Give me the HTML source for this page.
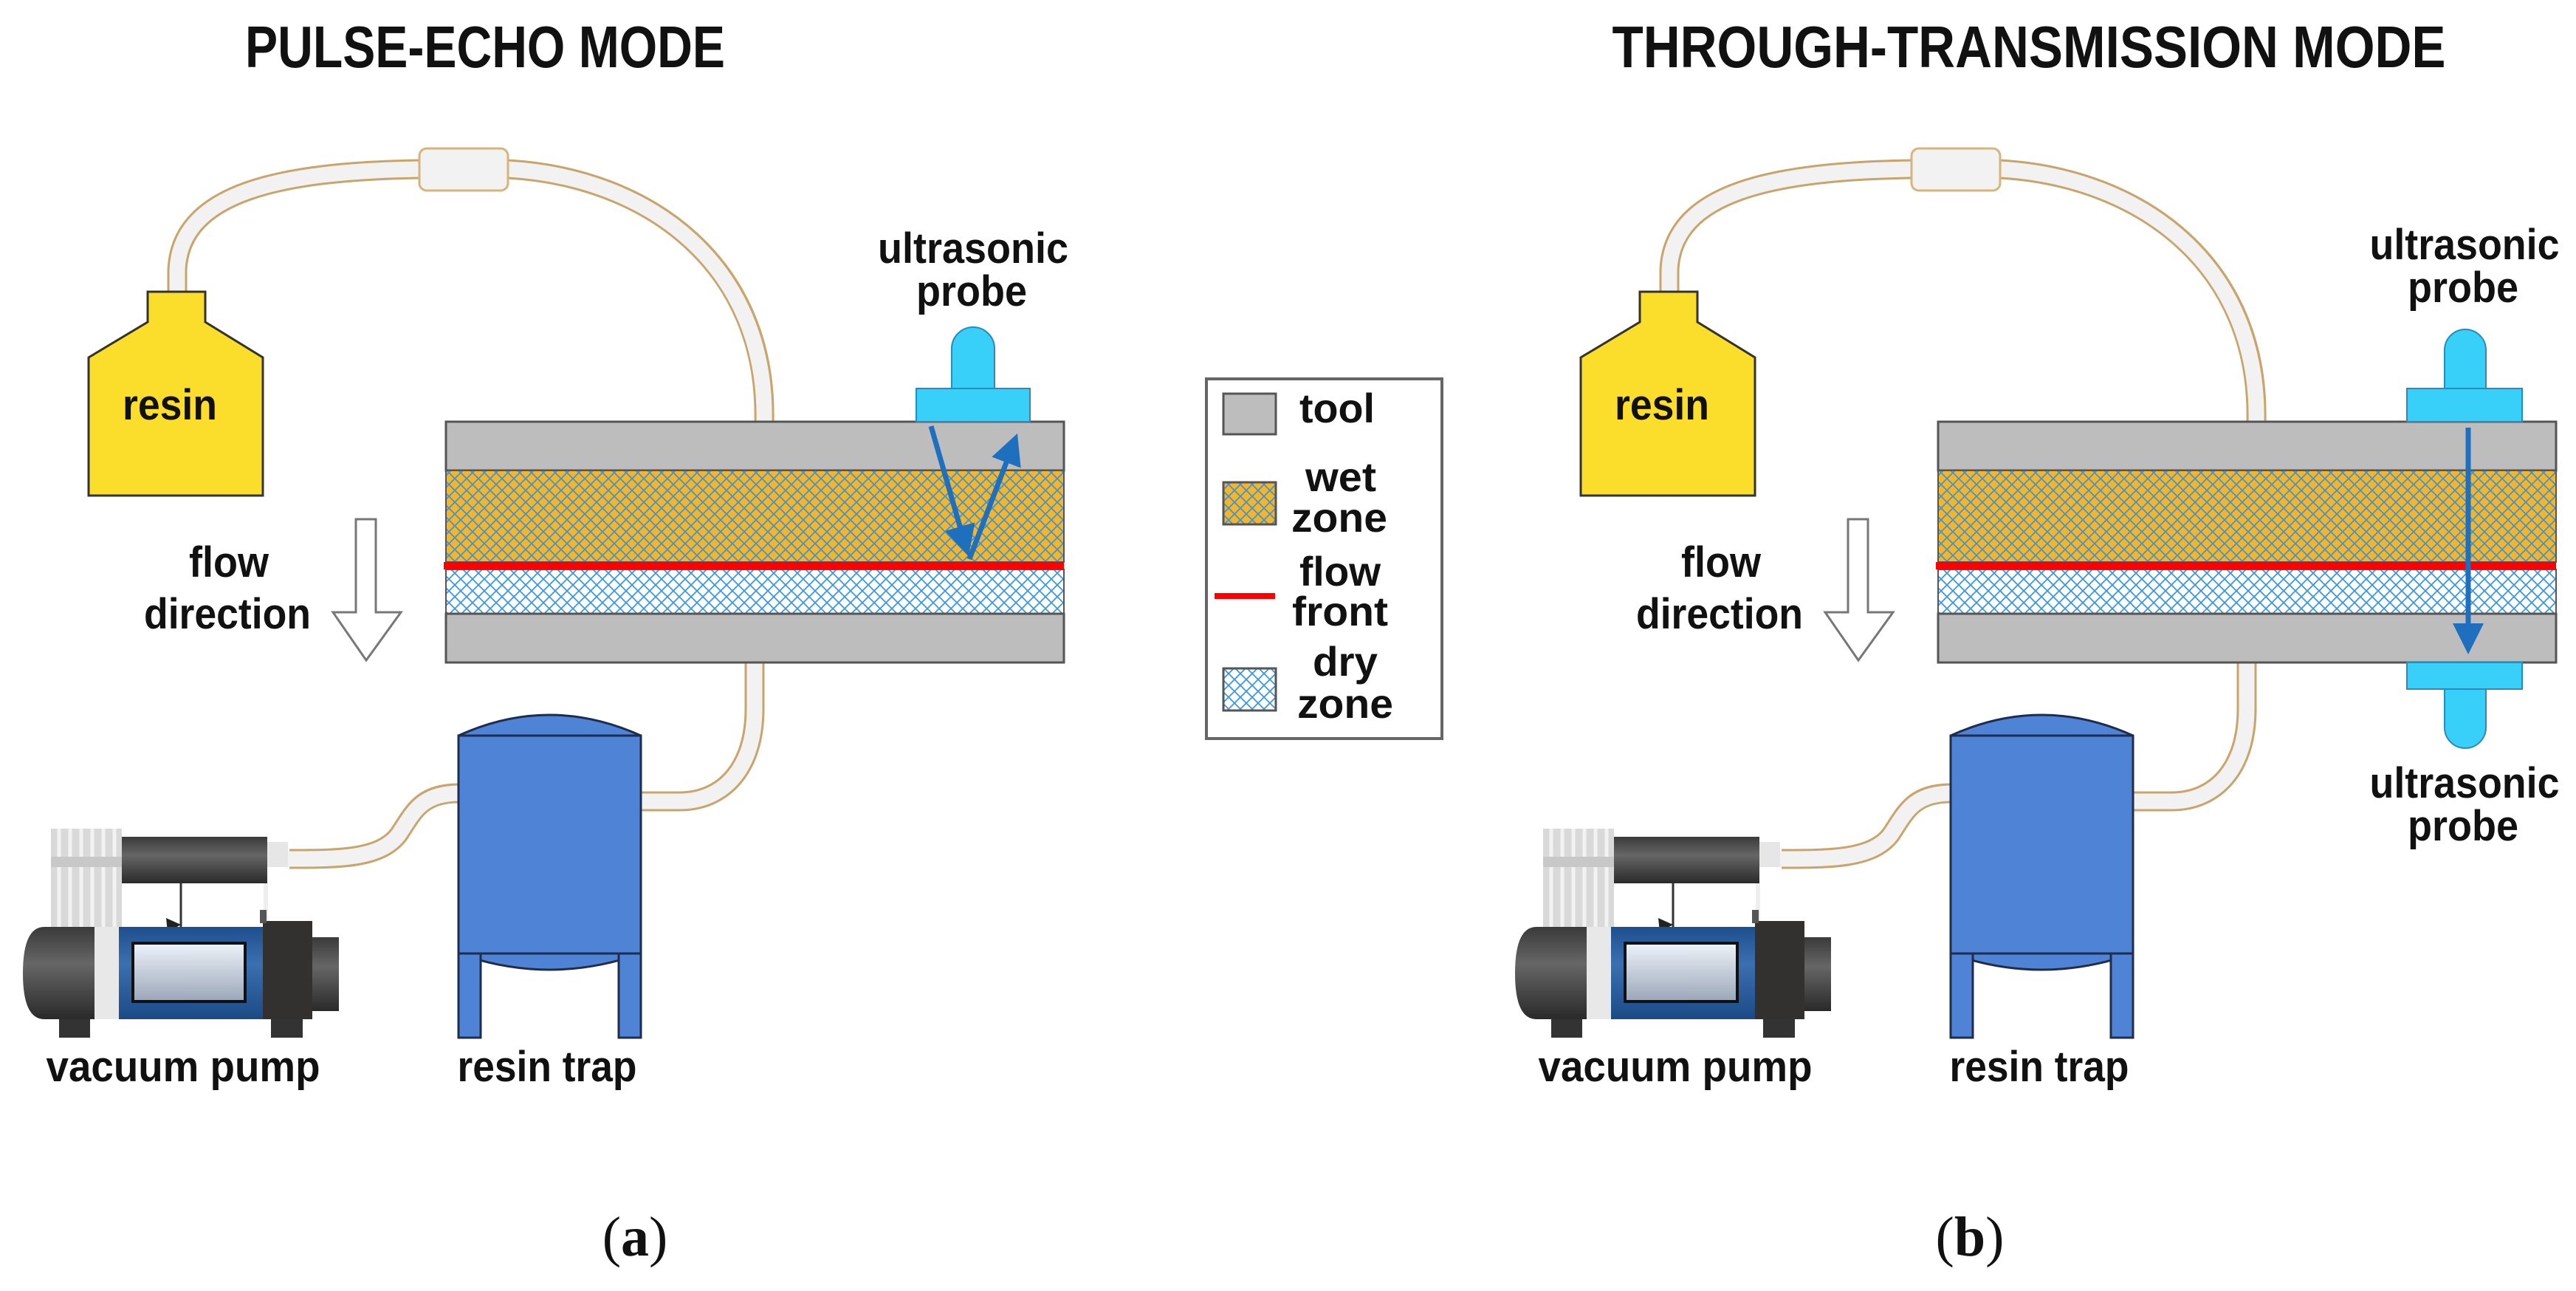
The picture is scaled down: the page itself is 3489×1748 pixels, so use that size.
<!DOCTYPE html>
<html><head><meta charset="utf-8"><style>html,body{margin:0;padding:0;background:#fff}svg{display:block}</style></head>
<body>
<svg xmlns="http://www.w3.org/2000/svg" width="3489" height="1748" viewBox="0 0 3489 1748">
<defs>
<pattern id="hw" patternUnits="userSpaceOnUse" width="16" height="16">
<rect width="16" height="16" fill="#f7b526"/>
<path d="M0,0L16,16M16,0L0,16" stroke="#3b95d8" stroke-width="1.8"/>
</pattern>
<pattern id="hd" patternUnits="userSpaceOnUse" width="16" height="16">
<rect width="16" height="16" fill="#fff"/>
<path d="M0,0L16,16M16,0L0,16" stroke="#3a97e6" stroke-width="1.8"/>
</pattern>
<linearGradient id="dk" x1="0" y1="0" x2="0" y2="1"><stop offset="0" stop-color="#3a3a3a"/><stop offset="0.4" stop-color="#666"/><stop offset="1" stop-color="#2a2a2a"/></linearGradient>
<linearGradient id="bl" x1="0" y1="0" x2="0" y2="1"><stop offset="0" stop-color="#1d4f8e"/><stop offset="0.4" stop-color="#3c6fb0"/><stop offset="1" stop-color="#1b4a86"/></linearGradient>
<linearGradient id="wn" x1="0" y1="0" x2="0" y2="1"><stop offset="0" stop-color="#eef3fa"/><stop offset="1" stop-color="#9aa6b8"/></linearGradient>
<marker id="ah" markerWidth="6" markerHeight="6" refX="4" refY="3" orient="auto" markerUnits="strokeWidth"><path d="M0,0L6,3L0,6Z" fill="#1f6fbf"/></marker>
<g id="tubes">
<g fill="none" stroke-linecap="butt">
<path d="M240,397 L240,365 C245,260 380,232 568,229 M688,229 C880,240 1040,360 1035,571 M1022,897 L1022,960 C1022,1040 980,1085 920,1085 L868,1085 M621,1074 C570,1074 560,1100 540,1130 C515,1163 460,1163 392,1163" stroke="#c9a56c" stroke-width="27"/>
<path d="M240,399 L240,365 C245,260 380,232 568,229 M688,229 C880,240 1040,360 1035,573 M1022,895 L1022,960 C1022,1040 980,1085 920,1085 L866,1085 M623,1074 C570,1074 560,1100 540,1130 C515,1163 460,1163 390,1163" stroke="#f2f2f2" stroke-width="21"/>
</g>
<rect x="568" y="201" width="120" height="57" rx="10" fill="#f2f2f2" stroke="#d6b47c" stroke-width="3"/>
</g>
<g id="bottle">
<path d="M200,395 L278,395 L278,436 L356,484 L356,671 L120,671 L120,484 L200,436 Z" fill="#fbdd2c" stroke="#333" stroke-width="3"/>
</g>
<g id="plate">
<rect x="604" y="571" width="837" height="66" fill="#bdbdbd" stroke="#555" stroke-width="3"/>
<rect x="604" y="637" width="837" height="124" fill="url(#hw)" stroke="#555" stroke-width="2"/>
<rect x="604" y="771" width="837" height="60" fill="url(#hd)" stroke="#555" stroke-width="2"/>
<rect x="604" y="831" width="837" height="66" fill="#bdbdbd" stroke="#555" stroke-width="3"/>
<rect x="601" y="761" width="840" height="10" fill="#ff0000"/>
</g>
<g id="flowarrow">
<path d="M482,703 L509,703 L509,829 L543,829 L496,894 L451,829 L482,829 Z" fill="#fff" stroke="#777" stroke-width="3"/>
</g>
<g id="trap">
<path d="M621,996 Q744,940 868,996 Z" fill="#4f83d6" stroke="#1f2d4d" stroke-width="3"/>
<path d="M621,1291 Q744,1335 868,1291 Z" fill="#4f83d6" stroke="#1f2d4d" stroke-width="3"/>
<rect x="621" y="1291" width="30" height="114" fill="#4f83d6" stroke="#1f2d4d" stroke-width="3"/>
<rect x="838" y="1291" width="30" height="114" fill="#4f83d6" stroke="#1f2d4d" stroke-width="3"/>
<rect x="621" y="996" width="247" height="295" fill="#4f83d6" stroke="#1f2d4d" stroke-width="3"/>
</g>
<g id="pump">
<rect x="69" y="1122" width="96" height="133" fill="#d9d9d9"/>
<path d="M80,1122V1255M95,1122V1255M110,1122V1255M125,1122V1255M140,1122V1255M155,1122V1255" stroke="#f2f2f2" stroke-width="5"/>
<rect x="69" y="1160" width="96" height="14" fill="#c8c8c8"/>
<rect x="362" y="1140" width="28" height="34" fill="#e6e6e6"/>
<rect x="165" y="1133" width="197" height="63" fill="url(#dk)"/>
<line x1="245" y1="1196" x2="245" y2="1255" stroke="#333" stroke-width="3"/>
<path d="M225,1243 L245,1252 L227,1262 Z" fill="#222"/>
<rect x="357" y="1196" width="6" height="55" fill="#eee"/>
<rect x="80" y="1375" width="42" height="30" fill="#333"/>
<rect x="367" y="1375" width="43" height="30" fill="#333"/>
<path d="M60,1255 L128,1255 L128,1380 L60,1380 Q31,1380 31,1318 Q31,1255 60,1255 Z" fill="url(#dk)"/>
<rect x="128" y="1255" width="33" height="125" fill="#e8e8e8"/>
<rect x="161" y="1255" width="195" height="125" fill="url(#bl)"/>
<rect x="180" y="1277" width="152" height="79" fill="url(#wn)" stroke="#111" stroke-width="4"/>
<rect x="356" y="1247" width="67" height="133" fill="#333030"/>
<rect x="423" y="1269" width="36" height="100" fill="url(#dk)"/>
<rect x="352" y="1232" width="9" height="18" fill="#555"/>
</g>
</defs>

<g font-family="'Liberation Sans', Arial, sans-serif" font-weight="bold" fill="#111">

<text x="657" y="91" font-size="80" text-anchor="middle" textLength="650" lengthAdjust="spacingAndGlyphs">PULSE-ECHO MODE</text>
<use href="#tubes"/>
<use href="#bottle"/>
<use href="#plate"/>
<use href="#flowarrow"/>
<use href="#trap"/>
<use href="#pump"/>
<path d="M1289,526 L1289,472 A29,29 0 0 1 1347,472 L1347,526 Z" fill="#38cff8" stroke="#2a8ab8" stroke-width="2"/>
<rect x="1241" y="526" width="154" height="45" fill="#38cff8" stroke="#2a8ab8" stroke-width="2"/>
<g stroke="#1f6fbf" stroke-width="7" fill="none">
<line x1="1261" y1="577" x2="1308" y2="740" marker-end="url(#ah)"/>
<line x1="1313" y1="757" x2="1373" y2="600" marker-end="url(#ah)"/>
</g>
<text x="230" y="568" font-size="58" text-anchor="middle" textLength="128" lengthAdjust="spacingAndGlyphs">resin</text>
<text x="1318" y="356" font-size="58" text-anchor="middle" textLength="258" lengthAdjust="spacingAndGlyphs">ultrasonic</text>
<text x="1316" y="414" font-size="58" text-anchor="middle" textLength="150" lengthAdjust="spacingAndGlyphs">probe</text>
<text x="310" y="781" font-size="58" text-anchor="middle" textLength="108" lengthAdjust="spacingAndGlyphs">flow</text>
<text x="308" y="851" font-size="58" text-anchor="middle" textLength="226" lengthAdjust="spacingAndGlyphs">direction</text>
<text x="248" y="1464" font-size="58" text-anchor="middle" textLength="371" lengthAdjust="spacingAndGlyphs">vacuum pump</text>
<text x="741" y="1464" font-size="58" text-anchor="middle" textLength="243" lengthAdjust="spacingAndGlyphs">resin trap</text>

<rect x="1634" y="513" width="319" height="487" fill="#fff" stroke="#666" stroke-width="4"/>
<rect x="1657" y="533" width="71" height="55" fill="#bdbdbd" stroke="#555" stroke-width="3"/>
<rect x="1657" y="653" width="71" height="57" fill="url(#hw)" stroke="#555" stroke-width="3"/>
<rect x="1645" y="803" width="82" height="8" fill="#ff0000"/>
<rect x="1657" y="905" width="71" height="57" fill="url(#hd)" stroke="#555" stroke-width="3"/>
<text x="1811" y="572" font-size="56" text-anchor="middle" textLength="102" lengthAdjust="spacingAndGlyphs">tool</text>
<text x="1816" y="665" font-size="56" text-anchor="middle" textLength="96" lengthAdjust="spacingAndGlyphs">wet</text>
<text x="1814" y="720" font-size="56" text-anchor="middle" textLength="130" lengthAdjust="spacingAndGlyphs">zone</text>
<text x="1815" y="793" font-size="56" text-anchor="middle" textLength="110" lengthAdjust="spacingAndGlyphs">flow</text>
<text x="1815" y="847" font-size="56" text-anchor="middle" textLength="130" lengthAdjust="spacingAndGlyphs">front</text>
<text x="1822" y="915" font-size="56" text-anchor="middle" textLength="88" lengthAdjust="spacingAndGlyphs">dry</text>
<text x="1822" y="972" font-size="56" text-anchor="middle" textLength="130" lengthAdjust="spacingAndGlyphs">zone</text>

<text x="2748" y="91" font-size="80" text-anchor="middle" textLength="1129" lengthAdjust="spacingAndGlyphs">THROUGH-TRANSMISSION MODE</text>
<g transform="translate(2021,0)">
<use href="#tubes"/>
<use href="#bottle"/>
<use href="#plate"/>
<use href="#flowarrow"/>
<use href="#trap"/>
<use href="#pump"/>
</g>
<path d="M3311,526 L3311,474 A28,28 0 0 1 3367,474 L3367,526 Z" fill="#38cff8" stroke="#2a8ab8" stroke-width="2"/>
<rect x="3260" y="526" width="156" height="45" fill="#38cff8" stroke="#2a8ab8" stroke-width="2"/>
<path d="M3311,933 L3311,985 A28,28 0 0 0 3367,985 L3367,933 Z" fill="#38cff8" stroke="#2a8ab8" stroke-width="2"/>
<rect x="3260" y="897" width="156" height="36" fill="#38cff8" stroke="#2a8ab8" stroke-width="2"/>
<line x1="3343" y1="579" x2="3343" y2="872" stroke="#1f6fbf" stroke-width="7" marker-end="url(#ah)"/>
<text x="2251" y="568" font-size="58" text-anchor="middle" textLength="128" lengthAdjust="spacingAndGlyphs">resin</text>
<text x="3338" y="351" font-size="58" text-anchor="middle" textLength="257" lengthAdjust="spacingAndGlyphs">ultrasonic</text>
<text x="3336" y="409" font-size="58" text-anchor="middle" textLength="150" lengthAdjust="spacingAndGlyphs">probe</text>
<text x="3338" y="1080" font-size="58" text-anchor="middle" textLength="257" lengthAdjust="spacingAndGlyphs">ultrasonic</text>
<text x="3336" y="1138" font-size="58" text-anchor="middle" textLength="150" lengthAdjust="spacingAndGlyphs">probe</text>
<text x="2331" y="781" font-size="58" text-anchor="middle" textLength="108" lengthAdjust="spacingAndGlyphs">flow</text>
<text x="2329" y="851" font-size="58" text-anchor="middle" textLength="226" lengthAdjust="spacingAndGlyphs">direction</text>
<text x="2269" y="1464" font-size="58" text-anchor="middle" textLength="371" lengthAdjust="spacingAndGlyphs">vacuum pump</text>
<text x="2762" y="1464" font-size="58" text-anchor="middle" textLength="243" lengthAdjust="spacingAndGlyphs">resin trap</text>
</g>

<g font-family="'Liberation Serif', 'Times New Roman', serif" font-size="76" fill="#111" text-anchor="middle">
<text x="860" y="1700">(<tspan font-weight="bold">a</tspan>)</text>
<text x="2668" y="1700">(<tspan font-weight="bold">b</tspan>)</text>
</g>
</svg>
</body></html>
